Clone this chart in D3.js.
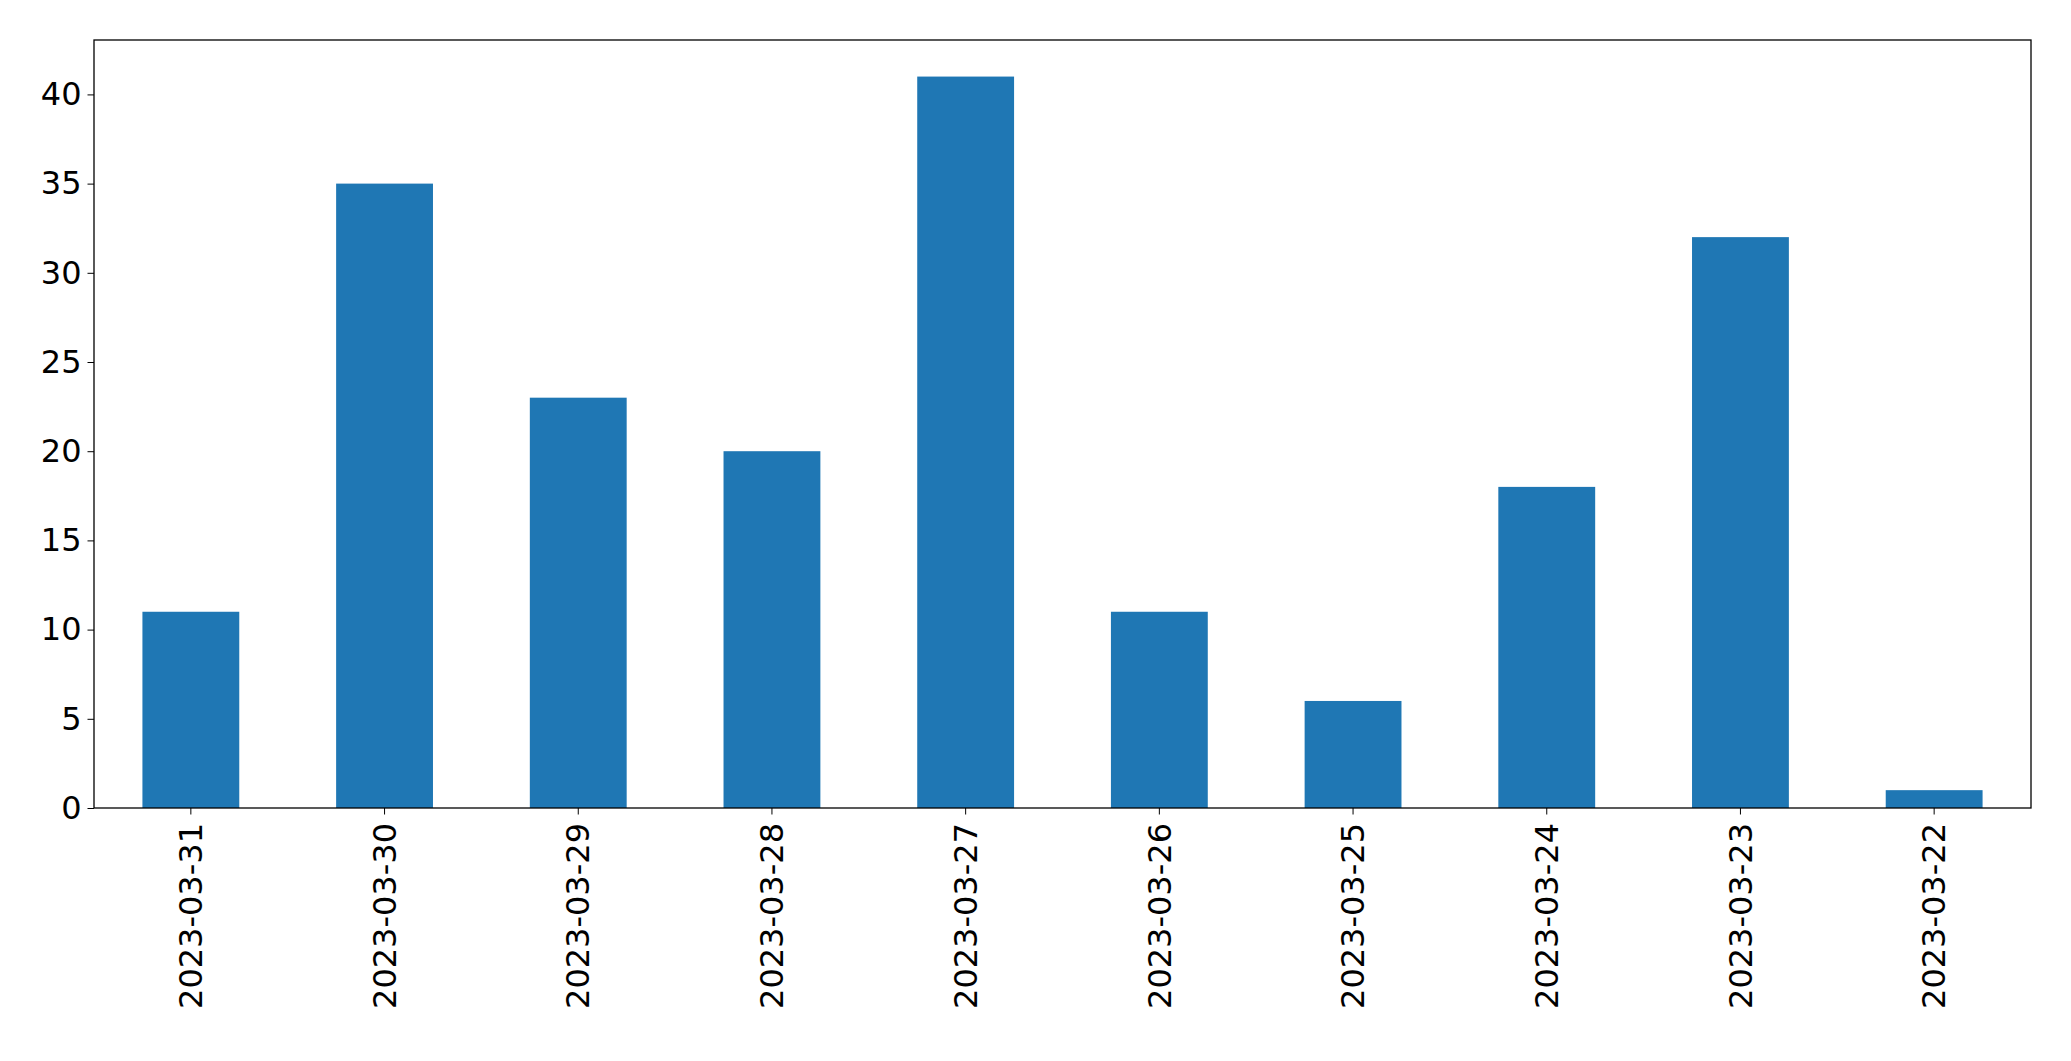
<!DOCTYPE html>
<html><head><meta charset="utf-8">
<script src="https://cdn.jsdelivr.net/npm/d3@7"></script>
<style>body{margin:0;background:#fff}svg{display:block}</style>
</head><body><svg id="chart"></svg>
<script>
const dates = ['2023-03-31','2023-03-30','2023-03-29','2023-03-28','2023-03-27','2023-03-26','2023-03-25','2023-03-24','2023-03-23','2023-03-22'];
const counts = [11, 35, 23, 20, 41, 11, 6, 18, 32, 1];
const yTicks = [0, 5, 10, 15, 20, 25, 30, 35, 40];

const W = 2071, H = 1061;
const m = {left: 94, right: 40, top: 40, bottom: 253};
const svg = d3.select('#chart').attr('width', W).attr('height', H);

const x = d3.scaleBand().domain(dates).range([m.left, W - m.right]).paddingInner(0.5).paddingOuter(0.25);
const y = d3.scaleLinear().domain([0, d3.max(counts) * 1.05]).range([H - m.bottom, m.top]);

svg.selectAll('rect.bar').data(counts).enter().append('rect')
  .attr('x', (d, i) => x(dates[i]))
  .attr('width', x.bandwidth())
  .attr('y', d => y(d))
  .attr('height', d => y(0) - y(d))
  .attr('fill', '#1f77b4');

const font = 'DejaVu Sans, sans-serif';

// y axis
const ya = svg.append('g').attr('transform', `translate(${m.left},0)`)
  .call(d3.axisLeft(y).tickValues(yTicks).tickSize(6.5).tickPadding(6));
ya.select('.domain').remove();
ya.selectAll('text').style('font-family', font).style('font-size', '32px').attr('fill', '#000');

// x axis
const xa = svg.append('g').attr('transform', `translate(0,${H - m.bottom})`)
  .call(d3.axisBottom(x).tickSize(6.5).tickPadding(6));
xa.select('.domain').remove();
xa.selectAll('text')
  .style('font-family', font).style('font-size', '32px').attr('fill', '#000')
  .attr('transform', 'rotate(-90)')
  .attr('text-anchor', 'end')
  .attr('x', -15).attr('y', 0).attr('dy', '0.35em');

// frame
svg.append('rect')
  .attr('x', m.left).attr('y', m.top)
  .attr('width', W - m.left - m.right).attr('height', H - m.top - m.bottom)
  .attr('fill', 'none').attr('stroke', '#000').attr('stroke-width', 1.3);
</script></body></html>
